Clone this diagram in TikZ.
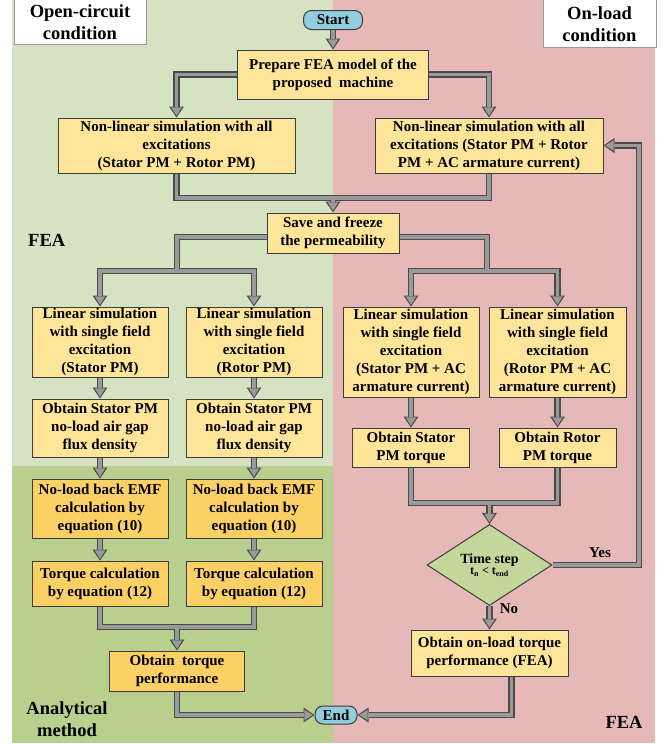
\documentclass[tikz,border=0pt]{standalone}
\usepackage{fontspec}
\setmainfont{Liberation Serif}
\usetikzlibrary{arrows.meta,shapes.geometric,calc}
\definecolor{gbg}{HTML}{D6E3C2}
\definecolor{gdark}{HTML}{B9CF8D}
\definecolor{pbg}{HTML}{E6B9B8}
\definecolor{boxy}{HTML}{FFE59A}
\definecolor{boxo}{HTML}{FBD166}
\definecolor{bord}{HTML}{3C3C3C}
\definecolor{sblue}{HTML}{92CDDC}
\definecolor{dgreen}{HTML}{C4D79B}
\definecolor{cdark}{HTML}{4A4A4A}
\definecolor{cgray}{HTML}{9A9A9A}
\pgfdeclarelayer{bg}
\pgfsetlayers{bg,main}
\newcommand\myconns{%
  \draw[ca] (start) -- (prep);
  \draw[ca] (prep.west) -| (nlL.north);
  \draw[ca] (prep.east) -| (nlR.north);
  \draw[c] (nlL.south) |- (j1) -| (nlR.south);
  \draw[ca] (j1) -- (save.north);
  \draw[c] ([yshift=-4pt]save.west) -| (bl);
  \draw[c] ([yshift=-4pt]save.east) -| (br);
  \draw[ca] (bl) -| (L1.north);
  \draw[ca] (bl) -| (L2.north);
  \draw[ca] (br) -| (R1.north);
  \draw[ca] (br) -| (R2.north);
  \draw[ca] (L1) -- (O1);
  \draw[ca] (L2) -- (O2);
  \draw[ca] (O1) -- (E1);
  \draw[ca] (O2) -- (E2);
  \draw[ca] (E1) -- (T1);
  \draw[ca] (E2) -- (T2);
  \draw[ca] (R1) -- (RT1);
  \draw[ca] (R2) -- (RT2);
  \draw[c] (T1.south) |- (jt) -| (T2.south);
  \draw[ca] (jt) -- (otp.north);
  \draw[c] (RT1.south) |- (jr) -| (RT2.south);
  \draw[ca] (jr) -- (dia.north);
  \draw[ca] (dia) -- (ol);
  \draw[ca] (dia.east) -- (dia.east -| loopx) |- (nlR.east);
  \draw[ca] (otp.south) |- (end.west);
  \draw[ca] ([xshift=22pt]ol.south) |- (end.east);
}
\begin{document}
\begin{tikzpicture}[x=1pt,y=-1pt,
  box/.style={draw=bord, line width=1pt, fill=boxy, align=center, inner sep=1pt,
    font=\fontsize{15}{18}\selectfont\bfseries},
  boxa/.style={box, fill=boxo},
  term/.style={draw=bord, line width=1pt, fill=sblue, rounded corners=8pt, inner sep=0pt,
    font=\fontsize{15}{18}\selectfont\bfseries},
  title/.style={draw=black!40, line width=0.8pt, fill=white},
  lbl/.style={align=center, inner sep=0pt, font=\fontsize{18.5}{22}\selectfont\bfseries},
  yn/.style={inner sep=0pt, font=\fontsize{15}{18}\selectfont\bfseries}]
\useasboundingbox (0,0) rectangle (665,744);
\begin{pgfonlayer}{bg}
  \fill[white] (0,0) rectangle (665,744);
  \fill[gbg] (12,0) rectangle (333,743);
  \fill[gdark] (12,466) rectangle (333,743);
  \fill[pbg] (333,0) rectangle (655,743);
  \draw[title] (14,-2) rectangle (146,44);
  \draw[title] (543,-2) rectangle (656,47);
\end{pgfonlayer}
\node[lbl] (t1) at (80,22) {Open-circuit\\condition};
\node[lbl] (t2) at (599.5,24) {On-load\\condition};
\node[lbl, anchor=west] (fea1) at (28,240) {FEA};
\node[lbl] (anl) at (67,719) {Analytical\\method};
\node[lbl] (fea2) at (624,722) {FEA};

\node[term, minimum width=59pt, minimum height=19pt] (start) at (333,20) {Start};
\node[box, minimum width=191pt, minimum height=49pt] (prep) at (333,74.5) {Prepare FEA model of the\\proposed\ \ machine};
\node[box, minimum width=237pt, minimum height=55pt] (nlL) at (176.5,145.5) {Non-linear simulation with all\\excitations\\(Stator PM + Rotor PM)};
\node[box, minimum width=228pt, minimum height=55pt] (nlR) at (489,145.5) {Non-linear simulation with all\\excitations (Stator PM + Rotor\\PM + AC armature current)};
\node[box, minimum width=132pt, minimum height=40pt] (save) at (333,233) {Save and freeze\\the permeability};
\node[box, minimum width=136pt, minimum height=70pt] (L1) at (100,342) {Linear simulation\\with single field\\excitation\\(Stator PM)};
\node[box, minimum width=136pt, minimum height=70pt] (L2) at (254,342) {Linear simulation\\with single field\\excitation\\(Rotor PM)};
\node[box, minimum width=136pt, minimum height=90pt] (R1) at (411,352) {Linear simulation\\with single field\\excitation\\(Stator PM + AC\\armature current)};
\node[box, minimum width=137pt, minimum height=90pt] (R2) at (557.5,352) {Linear simulation\\with single field\\excitation\\(Rotor PM + AC\\armature current)};
\node[box, minimum width=136pt, minimum height=58pt] (O1) at (100,428) {Obtain Stator PM\\no-load air gap\\flux density};
\node[box, minimum width=136pt, minimum height=58pt] (O2) at (254,428) {Obtain Stator PM\\no-load air gap\\flux density};
\node[box, minimum width=117pt, minimum height=39pt] (RT1) at (411,447.5) {Obtain Stator\\PM torque};
\node[box, minimum width=117pt, minimum height=39pt] (RT2) at (557.5,447.5) {Obtain Rotor\\PM torque};
\node[boxa, minimum width=136pt, minimum height=59pt] (E1) at (100,508.5) {No-load back EMF\\calculation by\\equation (10)};
\node[boxa, minimum width=136pt, minimum height=59pt] (E2) at (254,508.5) {No-load back EMF\\calculation by\\equation (10)};
\node[boxa, minimum width=136pt, minimum height=45pt] (T1) at (100,583.5) {Torque calculation\\by equation (12)};
\node[boxa, minimum width=136pt, minimum height=45pt] (T2) at (254,583.5) {Torque calculation\\by equation (12)};
\node[boxa, minimum width=135pt, minimum height=40pt] (otp) at (177,671) {Obtain\ \ torque\\performance};
\node[draw=bord, line width=1pt, fill=dgreen, diamond, inner sep=0pt, minimum width=125pt, minimum height=68pt, align=center] (dia) at (489.5,565)
  {\fontsize{14}{17}\selectfont\bfseries Time step\\[-1pt]\fontsize{12}{14}\selectfont\bfseries t\textsubscript{n} < t\textsubscript{end}};
\node[box, minimum width=157pt, minimum height=46pt] (ol) at (489.5,653) {Obtain on-load torque\\performance (FEA)};
\node[term, minimum width=42pt, minimum height=18pt] (end) at (336,715) {End};
\node[yn] (yes) at (600,553) {Yes};
\node[yn] (no) at (509,609) {No};

\coordinate (j1) at (333,198);
\coordinate (bl) at (177,271);
\coordinate (br) at (487,271);
\coordinate (jt) at (177,627);
\coordinate (jr) at (489.5,503);
\coordinate (loopx) at (639,0);

\begin{scope}[c/.style={draw=cdark, line width=6.5pt},
  ca/.style={c, -{Triangle[line width=0pt, length=11pt, width=15pt]}}]
  \myconns
\end{scope}
\begin{scope}[c/.style={draw=cgray, line width=3.6pt},
  ca/.style={c, shorten >=1.8pt, -{Triangle[line width=0pt, length=8.4pt, width=10.6pt]}}]
  \myconns
\end{scope}
\end{tikzpicture}
\end{document}
